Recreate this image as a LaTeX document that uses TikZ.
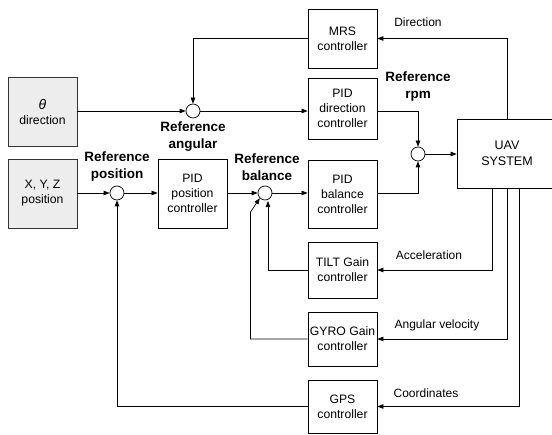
\documentclass[tikz,border=0pt]{standalone}
\usepackage{fontspec}
\setmainfont{Liberation Sans}
\usetikzlibrary{arrows.meta,calc}
\begin{document}
\begin{tikzpicture}[x=1pt,y=-1pt,
  line width=0.7pt,
  box/.style={draw, line width=0.8pt, minimum width=69pt, align=center, inner sep=0pt, font=\fontsize{12.2}{15}\selectfont},
  inbox/.style={box, fill=gray!14, draw=black!80},
  sumc/.style={draw, circle, minimum size=14pt, inner sep=0pt, fill=white},
  arr/.style={-{Triangle[length=6pt,width=4.5pt]}},
  reflab/.style={align=center, font=\fontsize{13.5}{17}\selectfont\bfseries},
  sig/.style={font=\fontsize{12}{14}\selectfont}
]
\clip (0,0) rectangle (552,435);
\fill[white] (0,0) rectangle (552,435);

% input boxes
\node[inbox, minimum height=69pt] (theta) at (42.5,111.5) {{\fontsize{14}{15}\selectfont\itshape θ}\\direction};
\node[inbox, minimum height=69pt] (xyz) at (42.5,193.5) {X, Y, Z\\position};

% summing junctions
\node[sumc] (sumA) at (193,111) {};
\node[sumc] (sumP) at (117,193) {};
\node[sumc] (sumB) at (265,193) {};
\node[sumc] (sumR) at (418,154) {};

% controllers
\node[box, minimum height=69pt] (pidpos) at (192.5,193.5) {PID\\position\\controller};
\node[box, minimum height=59pt] (mrs) at (342.5,38.5) {MRS\\controller};
\node[box, minimum height=61pt] (piddir) at (342.5,108.5) {PID\\direction\\controller};
\node[box, minimum height=68pt] (pidbal) at (342.5,194) {PID\\balance\\controller};
\node[box, minimum height=56pt] (tilt) at (342.5,270) {TILT Gain\\controller};
\node[box, minimum height=54pt] (gyro) at (342.5,339) {GYRO Gain\\controller};
\node[box, minimum height=53pt] (gps) at (342.5,406.5) {GPS\\controller};
\node[box, minimum width=100pt, minimum height=69pt, font=\fontsize{12.5}{15.5}\selectfont] (uav) at (507,153.5) {UAV\\SYSTEM};

% feedback tap points on UAV bottom
\coordinate (u1) at (492,188);
\coordinate (u2) at (507,188);
\coordinate (u3) at (519,188);
\coordinate (gyroup) at (250.5,212);

% forward path
\draw[arr] (theta.east |- sumA) -- (sumA.west);
\draw[arr] (sumA.east) -- (sumA.east -| piddir.west);
\draw[arr] (mrs.west) -| (sumA.north);
\draw[arr] (uav.north) |- (mrs.east);
\draw[arr] (piddir.east |- sumA) -| (sumR.north);
\draw[arr] (pidbal.east |- sumB) -| (sumR.south);
\draw[arr] (sumR.east) -- (sumR.east -| uav.west);
\draw[arr] (xyz.east |- sumP) -- (sumP.west);
\draw[arr] (sumP.east) -- (sumP.east -| pidpos.west);
\draw[arr] (pidpos.east |- sumB) -- (sumB.west);
\draw[arr] (sumB.east) -- (sumB.east -| pidbal.west);

% feedback
\draw[arr] (u1) |- (tilt.east);
\draw[arr] (u2) |- (gyro.east);
\draw[arr] (u3) |- (gps.east);
\draw[arr] (tilt.west) -| ($(sumB.south)+(3,0.7)$);
\draw[arr] (gyro.west) -| (gyroup) -- (sumB.south west);
\draw[arr] (gps.west) -| (sumP.south);

% labels
\node[reflab] (lA) at (193,137) {Reference\\angular};
\node[reflab] (lP) at (117,167) {Reference\\position};
\node[reflab] (lB) at (267,167) {Reference\\balance};
\node[reflab] (lR) at (418,87) {Reference\\rpm};
\node[sig] (lDir) at (418,22) {Direction};
\node[sig] (lAcc) at (429,255) {Acceleration};
\node[sig] (lAng) at (437,325) {Angular velocity};
\node[sig] (lCo) at (426,393) {Coordinates};
\end{tikzpicture}
\end{document}
